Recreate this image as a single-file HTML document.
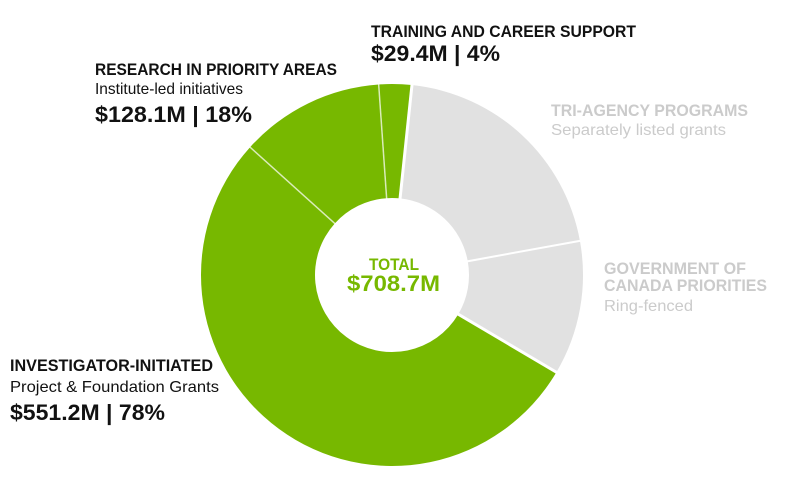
<!DOCTYPE html>
<html><head><meta charset="utf-8"><style>
html,body{margin:0;padding:0;background:#fff;}
svg{display:block;}
text{font-family:"Liberation Sans Narrow","Liberation Sans",sans-serif;}
.b{font-weight:bold;}
</style></head><body>
<svg width="800" height="496" viewBox="0 0 800 496" xmlns="http://www.w3.org/2000/svg">
<g id="donut"></g>
<script>
(function(){
var cx=392,cy=275,R=191,r=77,g=document.getElementById('donut');
function pt(a,rad){var t=a*Math.PI/180;return [cx+rad*Math.sin(t),cy-rad*Math.cos(t)];}
function seg(a0,a1,fill){var l=(a1-a0)>180?1:0;var p1=pt(a0,R),p2=pt(a1,R),p3=pt(a1,r),p4=pt(a0,r);
var d='M'+p1+' A'+R+' '+R+' 0 '+l+' 1 '+p2+' L'+p3+' A'+r+' '+r+' 0 '+l+' 0 '+p4+'Z';
var e=document.createElementNS('http://www.w3.org/2000/svg','path');e.setAttribute('d',d);e.setAttribute('fill',fill);g.appendChild(e);}
function line(a,w,c){var p=pt(a,r-2),q=pt(a,R+2);var e=document.createElementNS('http://www.w3.org/2000/svg','line');
e.setAttribute('x1',p[0]);e.setAttribute('y1',p[1]);e.setAttribute('x2',q[0]);e.setAttribute('y2',q[1]);e.setAttribute('stroke',c);e.setAttribute('stroke-width',w);g.appendChild(e);}
seg(6,79.7,'#e1e1e1');seg(79.7,120.6,'#e1e1e1');
seg(120.6,312,'#77b800');seg(312,356,'#77b800');seg(356,366,'#77b800');
line(6,3,'#fff');line(120.6,3,'#fff');line(79.7,2,'#fff');
line(312,1.5,'rgba(255,255,255,0.7)');line(356,1.5,'rgba(255,255,255,0.7)');
})();
</script>
<text x="371" y="37" class="b" font-size="17" fill="#111" textLength="265" lengthAdjust="spacingAndGlyphs">TRAINING AND CAREER SUPPORT</text>
<text x="371" y="61" class="b" font-size="22" fill="#111" textLength="129" lengthAdjust="spacingAndGlyphs">$29.4M | 4%</text>
<text x="95" y="75" class="b" font-size="17" fill="#111" textLength="242" lengthAdjust="spacingAndGlyphs">RESEARCH IN PRIORITY AREAS</text>
<text x="95" y="94" font-size="16" fill="#111" textLength="148" lengthAdjust="spacingAndGlyphs">Institute-led initiatives</text>
<text x="95" y="122" class="b" font-size="22" fill="#111" textLength="157" lengthAdjust="spacingAndGlyphs">$128.1M | 18%</text>
<text x="551" y="116" class="b" font-size="17" fill="#cbcbcb" textLength="197" lengthAdjust="spacingAndGlyphs">TRI-AGENCY PROGRAMS</text>
<text x="551" y="135" font-size="16" fill="#cbcbcb" textLength="175" lengthAdjust="spacingAndGlyphs">Separately listed grants</text>
<text x="604" y="274" class="b" font-size="17" fill="#cbcbcb" textLength="142" lengthAdjust="spacingAndGlyphs">GOVERNMENT OF</text>
<text x="604" y="291" class="b" font-size="17" fill="#cbcbcb" textLength="163" lengthAdjust="spacingAndGlyphs">CANADA PRIORITIES</text>
<text x="604" y="311" font-size="16" fill="#cbcbcb" textLength="89" lengthAdjust="spacingAndGlyphs">Ring-fenced</text>
<text x="10" y="371" class="b" font-size="17" fill="#111" textLength="203" lengthAdjust="spacingAndGlyphs">INVESTIGATOR-INITIATED</text>
<text x="10" y="392" font-size="16" fill="#111" textLength="209" lengthAdjust="spacingAndGlyphs">Project &amp; Foundation Grants</text>
<text x="10" y="420" class="b" font-size="22" fill="#111" textLength="155" lengthAdjust="spacingAndGlyphs">$551.2M | 78%</text>
<text x="369" y="270" class="b" font-size="17" fill="#77b800" textLength="50" lengthAdjust="spacingAndGlyphs">TOTAL</text>
<text x="347" y="291" class="b" font-size="22" fill="#77b800" textLength="93" lengthAdjust="spacingAndGlyphs">$708.7M</text>
</svg>
</body></html>
